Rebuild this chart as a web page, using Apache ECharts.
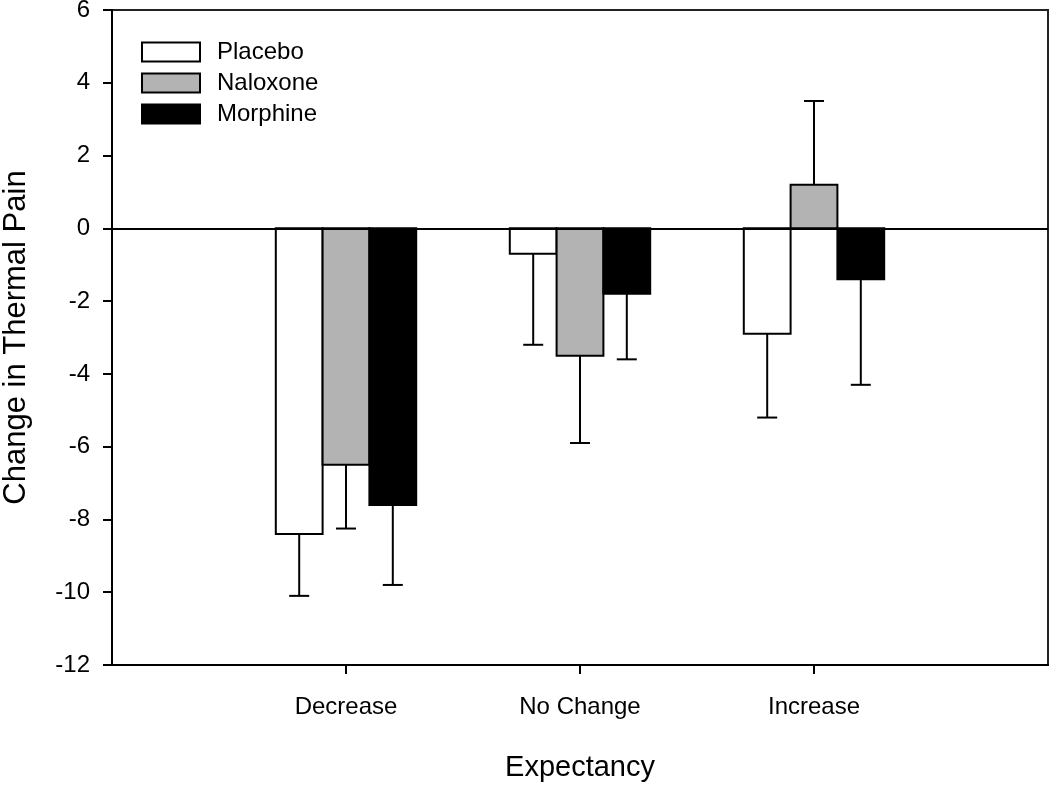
<!DOCTYPE html>
<html>
<head>
<meta charset="utf-8">
<script src="https://cdn.jsdelivr.net/npm/echarts@6/dist/echarts.min.js"></script>
<style>html,body{margin:0;padding:0;background:#fff}#c{width:1050px;height:791px}</style>
</head>
<body>
<div id="c"></div>
<script>
const categories = ['Decrease', 'No Change', 'Increase'];
const seriesNames = ['Placebo', 'Naloxone', 'Morphine'];
const placeboMean = [-8.4, -0.7, -2.9];
const placeboErrEnd = [-10.1, -3.2, -5.2];
const naloxoneMean = [-6.5, -3.5, 1.2];
const naloxoneErrEnd = [-8.25, -5.9, 3.5];
const morphineMean = [-7.6, -1.8, -1.4];
const morphineErrEnd = [-9.8, -3.6, -4.3];
const yTicks = [6, 4, 2, 0, -2, -4, -6, -8, -10, -12];

const fills = ['#ffffff', '#b3b3b3', '#000000'];
const means = [placeboMean, naloxoneMean, morphineMean];
const errs = [placeboErrEnd, naloxoneErrEnd, morphineErrEnd];
const offsets = [-0.2, 0, 0.2];
const barW = 0.2;
const FONT = 'Liberation Sans, Arial, sans-serif';

function makeSeries(k) {
  return {
    name: seriesNames[k],
    type: 'custom',
    itemStyle: { color: fills[k], borderColor: '#000', borderWidth: 2 },
    data: categories.map((c, i) => [i + 1, means[k][i], errs[k][i]]),
    encode: { x: 0, y: [1, 2] },
    renderItem: function (params, api) {
      const xc = api.value(0) + offsets[k];
      const v = api.value(1);
      const e = api.value(2);
      const pL = api.coord([xc - barW / 2, 0]);
      const pR = api.coord([xc + barW / 2, v]);
      const pc = api.coord([xc, v]);
      const pe = api.coord([xc, e]);
      const cap = 10;
      return {
        type: 'group',
        children: [
          { type: 'line', shape: { x1: pc[0], y1: pc[1], x2: pe[0], y2: pe[1] }, style: { stroke: '#000', lineWidth: 2 } },
          { type: 'line', shape: { x1: pe[0] - cap, y1: pe[1], x2: pe[0] + cap, y2: pe[1] }, style: { stroke: '#000', lineWidth: 2 } },
          { type: 'rect', shape: { x: Math.min(pL[0], pR[0]), y: Math.min(pL[1], pR[1]), width: Math.abs(pR[0] - pL[0]), height: Math.abs(pR[1] - pL[1]) },
            style: { fill: fills[k], stroke: '#000', lineWidth: 2 } }
        ]
      };
    }
  };
}

const series = [0, 1, 2].map(makeSeries);
series[0].markLine = {
  silent: true, symbol: 'none', label: { show: false },
  lineStyle: { color: '#000', width: 2, type: 'solid' },
  data: [{ yAxis: 0 }]
};

const chart = echarts.init(document.getElementById('c'), null, { renderer: 'canvas' });
chart.setOption({
  animation: false,
  backgroundColor: '#fff',
  grid: { left: 112, right: 2, top: 10, bottom: 126, show: true, borderColor: '#222', borderWidth: 2,
    backgroundColor: 'transparent', containLabel: false, outerBoundsMode: 'none' },
  legend: {
    orient: 'vertical', left: 136, top: 35, itemWidth: 58, itemHeight: 19, itemGap: 7,
    icon: 'rect',
    textStyle: { fontFamily: FONT, fontSize: 24, color: '#000', padding: [0, 0, 0, 12] },
    data: seriesNames.map((n, k) => ({ name: n, itemStyle: { color: fills[k], borderColor: '#000', borderWidth: 2 } }))
  },
  xAxis: {
    type: 'value', min: 0, max: 4, interval: 1,
    name: 'Expectancy', nameLocation: 'middle', nameGap: 88,
    nameTextStyle: { fontFamily: FONT, fontSize: 29, color: '#000' },
    axisLine: { show: true, onZero: false, lineStyle: { color: '#000', width: 2 } },
    axisTick: { show: true, length: 9, lineStyle: { color: '#000', width: 2 }, customValues: [1, 2, 3] },
    axisLabel: { fontFamily: FONT, fontSize: 24, color: '#000', margin: 30,
      customValues: [1, 2, 3], formatter: v => categories[Math.round(v) - 1] || '' },
    splitLine: { show: false }
  },
  yAxis: {
    type: 'value', min: -12, max: 6, interval: 2,
    name: 'Change in Thermal Pain', nameLocation: 'middle', nameGap: 80,
    nameTextStyle: { fontFamily: FONT, fontSize: 31, color: '#000' },
    axisLine: { show: true, onZero: false, lineStyle: { color: '#000', width: 2 } },
    axisTick: { show: true, length: 9, lineStyle: { color: '#000', width: 2 } },
    axisLabel: { fontFamily: FONT, fontSize: 24, color: '#000', margin: 22,
      customValues: yTicks },
    splitLine: { show: false }
  },
  series: series
});
</script>
</body>
</html>
